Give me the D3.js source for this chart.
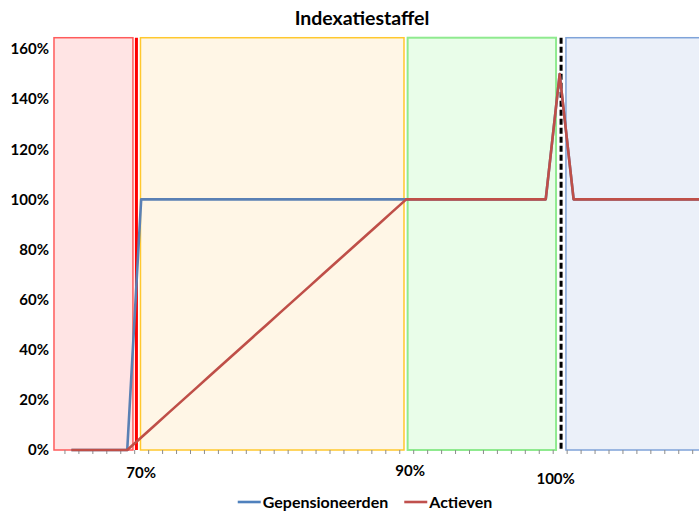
<!DOCTYPE html>
<html>
<head>
<meta charset="utf-8">
<script src="https://cdn.jsdelivr.net/npm/d3@7"></script>
<style>
  body { margin: 0; background: #fff; }
  svg { display: block; font-family: Lato, "Open Sans", sans-serif; font-weight: bold; }
</style>
</head>
<body>
<div id="chart"></div>
<script>
// categories: band index 1..46 on a category axis, labels only on a few of them
const categoryIndex = d3.range(1, 47);
const tickLabels = [
  {index: 6, label: '70%'},
  {index: 25, label: '90%'},
  {index: 36, label: '100%'}
];

// series values (fraction), one per category
const gepensioneerden = [
  0, 0, 0, 0, 0,
  1, 1, 1, 1, 1, 1, 1, 1, 1, 1, 1, 1, 1, 1, 1, 1, 1, 1, 1, 1,
  1, 1, 1, 1, 1, 1, 1, 1, 1, 1,
  1.5,
  1, 1, 1, 1, 1, 1, 1, 1, 1, 1
];
const actieven = [
  0, 0, 0, 0, 0,
  0.05, 0.10, 0.15, 0.20, 0.25, 0.30, 0.35, 0.40, 0.45, 0.50,
  0.55, 0.60, 0.65, 0.70, 0.75, 0.80, 0.85, 0.90, 0.95, 1.00,
  1, 1, 1, 1, 1, 1, 1, 1, 1, 1,
  1.5,
  1, 1, 1, 1, 1, 1, 1, 1, 1, 1
];

// shaded zones, in category-index units
const zoneNames = ['onder70', '70tot90', '90tot100', 'boven100'];
const zoneFrom = [-0.25, 5.95, 25.1, 36.45];
const zoneTo = [5.41, 24.84, 35.74, 48];
const zoneTop = 1.645;

// vertical marker lines, in category-index units
const markerAt = [5.66, 36.1];

const ZONE_STYLE = [
  {fill: '#ffe4e4', stroke: '#ff5b5b', width: 1.5},
  {fill: '#fff6e6', stroke: '#ffc82e', width: 1.5},
  {fill: '#e9fde9', stroke: '#8fea8f', width: 2},
  {fill: '#ebf0f9', stroke: '#7fa3d9', width: 1.5}
];
const MARKER_STYLE = [
  {stroke: '#ff0000', width: 3, dash: null},
  {stroke: '#000000', width: 3, dash: '6,3'}
];
// small nudges of the category labels, as in the original
const LABEL_NUDGE = [[0, 0], [4, -2], [-4, 6]];

const W = 699, H = 511;
const svg = d3.select('#chart').append('svg').attr('width', W).attr('height', H);

const x = d3.scaleLinear().domain([0, 46]).range([57.475, 57.475 + 46 * 13.95]);
const y = d3.scaleLinear().domain([0, 1.6]).range([450, 49]);

// title
svg.append('text')
  .attr('x', 362).attr('y', 25)
  .attr('text-anchor', 'middle')
  .attr('font-size', 19.5)
  .attr('fill', '#000')
  .text('Indexatiestaffel');

// zones
svg.append('g').selectAll('rect')
  .data(zoneNames)
  .join('rect')
  .attr('x', (d, i) => x(zoneFrom[i]))
  .attr('y', y(zoneTop))
  .attr('width', (d, i) => x(zoneTo[i]) - x(zoneFrom[i]))
  .attr('height', y(0) - y(zoneTop))
  .attr('fill', (d, i) => ZONE_STYLE[i].fill)
  .attr('stroke', (d, i) => ZONE_STYLE[i].stroke)
  .attr('stroke-width', (d, i) => ZONE_STYLE[i].width);

// x axis ticks (between categories)
const xAxis = svg.append('g')
  .attr('transform', `translate(0,${y(0)})`)
  .call(d3.axisBottom(x)
    .tickValues(d3.range(0.5, 47, 1))
    .tickSize(4)
    .tickFormat(''));
xAxis.select('.domain').remove();
xAxis.selectAll('.tick line').attr('stroke', '#8c8c8c');

// x category labels
svg.append('g').selectAll('text')
  .data(tickLabels)
  .join('text')
  .attr('x', (d, i) => x(d.index) + LABEL_NUDGE[i][0])
  .attr('y', (d, i) => 478 + LABEL_NUDGE[i][1])
  .attr('text-anchor', 'middle')
  .attr('font-size', 15)
  .text(d => d.label);

// y axis
const yAxis = svg.append('g')
  .attr('transform', 'translate(49,0)')
  .call(d3.axisLeft(y)
    .tickValues(d3.range(0, 1.61, 0.2))
    .tickSize(0)
    .tickPadding(0)
    .tickFormat(d3.format('.0%')));
yAxis.select('.domain').remove();
yAxis.selectAll('text')
  .attr('font-size', 15)
  .attr('font-family', 'Lato, sans-serif')
  .attr('font-weight', 'bold')
  .attr('fill', '#000');

// marker lines
svg.append('g').selectAll('line')
  .data(markerAt)
  .join('line')
  .attr('x1', d => x(d)).attr('x2', d => x(d))
  .attr('y1', y(zoneTop)).attr('y2', y(0))
  .attr('stroke', (d, i) => MARKER_STYLE[i].stroke)
  .attr('stroke-width', (d, i) => MARKER_STYLE[i].width)
  .attr('stroke-dasharray', (d, i) => MARKER_STYLE[i].dash);

// series
const series = [
  {name: 'Gepensioneerden', values: gepensioneerden, color: '#5a80b4', legend: '#4f81bd'},
  {name: 'Actieven', values: actieven, color: '#bf4f48', legend: '#c0504d'}
];

const line = d3.line()
  .x((d, i) => x(categoryIndex[i]))
  .y(d => y(d));

svg.append('g').selectAll('path')
  .data(series)
  .join('path')
  .attr('d', d => line(d.values))
  .attr('fill', 'none')
  .attr('stroke', d => d.color)
  .attr('stroke-width', 2.6)
  .attr('stroke-linejoin', 'round');

// legend
const legend = svg.append('g').attr('transform', 'translate(0,502)');
const items = legend.selectAll('g').data(series).join('g');
items.append('line')
  .attr('x1', 0).attr('x2', 23)
  .attr('stroke', d => d.legend)
  .attr('stroke-width', 2.6);
items.append('text')
  .attr('x', 25)
  .attr('dy', '0.35em')
  .attr('font-size', 16)
  .text(d => d.name);

const widths = [];
items.each(function () {
  widths.push(this.getBBox().width);
});
const gap = 16;
const total = d3.sum(widths) + gap * (widths.length - 1);
let cursor = 365 - total / 2;
items.attr('transform', (d, i) => {
  const t = `translate(${cursor},0)`;
  cursor += widths[i] + gap;
  return t;
});
</script>
</body>
</html>
